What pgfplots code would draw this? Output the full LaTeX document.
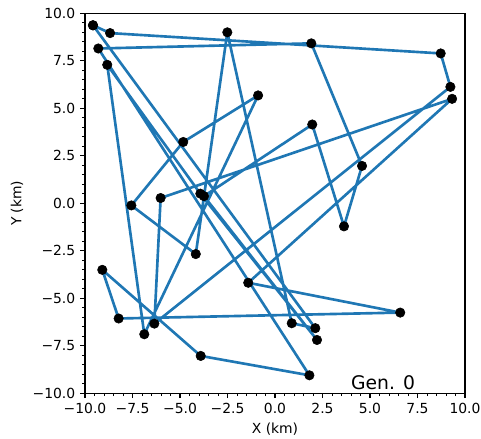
\documentclass[border=0pt]{standalone}
\usepackage{fontspec}
\setmainfont{DejaVu Sans}
\usepackage{pgfplots}
\usepackage{pgfplotstable}
\pgfplotsset{compat=1.18}
\definecolor{mplblue}{HTML}{1F77B4}

% tour order, closed back to the first city
\pgfplotstableread{
x y
-9.58 9.37
-8.68 8.96
8.72 7.89
9.23 6.13
-6.35 -6.33
-6.02 0.28
9.32 5.50
-1.41 -4.18
6.59 -5.75
-8.23 -6.06
-9.09 -3.50
-3.91 -8.03
1.81 -9.05
-9.30 8.15
1.91 8.42
4.58 1.97
3.63 -1.21
1.96 4.15
-3.74 0.38
2.21 -7.19
-3.93 0.51
-8.83 7.29
-6.88 -6.89
-0.89 5.68
-4.83 3.23
-7.56 -0.11
-4.17 -2.67
-2.51 9.00
0.88 -6.31
2.12 -6.57
-9.58 9.37
}\tour

\begin{document}
\begin{tikzpicture}
\begin{axis}[
  width=273.6pt, height=273.6pt, scale only axis,
  xmin=-10, xmax=10, ymin=-10, ymax=10,
  xtick={-10,-7.5,-5,-2.5,0,2.5,5,7.5,10},
  ytick={-10,-7.5,-5,-2.5,0,2.5,5,7.5,10},
  xticklabels={−10.0,−7.5,−5.0,−2.5,0.0,2.5,5.0,7.5,10.0},
  yticklabels={−10.0,−7.5,−5.0,−2.5,0.0,2.5,5.0,7.5,10.0},
  minor tick num=4,
  tick align=outside, xtick pos=bottom, ytick pos=left,
  major tick length=3.5pt, minor tick length=2pt,
  major tick style={black, line width=0.8pt},
  minor tick style={black, line width=0.6pt},
  axis line style={line width=0.8pt},
  xlabel={X (km)}, ylabel={Y (km)},
  ticklabel style={font=\fontsize{10}{12}\selectfont},
  label style={font=\fontsize{10}{12}\selectfont},
]
\addplot[mplblue, line width=1.9pt, line join=round, line cap=round] table {\tour};
\addplot[only marks, mark=*, mark size=3.4pt, mark options={fill=black, draw=black}] table {\tour};
\node[anchor=base west, font=\fontsize{13.5}{16}\selectfont] at (axis cs:3.75,-9.82) {Gen. 0};
\end{axis}
\pgfresetboundingbox
\path[use as bounding box] ([xshift=-61.2pt,yshift=-32.4pt]current axis.south west) rectangle ([xshift=11.5pt,yshift=9.6pt]current axis.north east);
\end{tikzpicture}
\end{document}
